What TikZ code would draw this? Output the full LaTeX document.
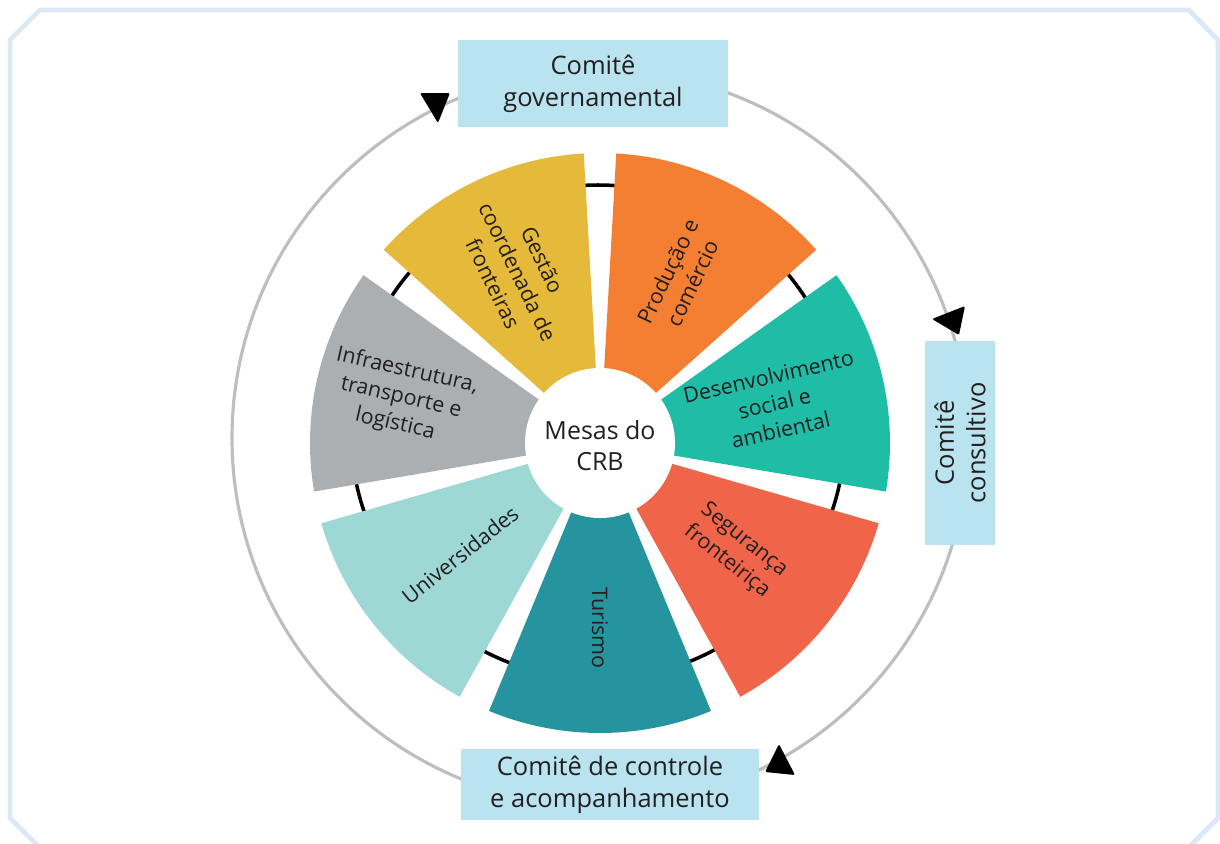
\documentclass[tikz,border=0pt]{standalone}
\usepackage{fontspec}
\setmainfont{Open Sans}
\usepackage{tikz}
\definecolor{frameblue}{RGB}{220,232,245}
\definecolor{boxblue}{RGB}{185,227,238}
\definecolor{ringgray}{RGB}{188,190,194}
\definecolor{inkgray}{RGB}{35,31,32}
\definecolor{cgest}{RGB}{229,185,58}
\definecolor{cprod}{RGB}{244,127,50}
\definecolor{cdes}{RGB}{32,189,166}
\definecolor{cseg}{RGB}{240,100,73}
\definecolor{ctur}{RGB}{37,148,158}
\definecolor{cuniv}{RGB}{158,216,213}
\definecolor{cinfra}{RGB}{172,175,177}

\tikzset{
  comite/.style={fill=boxblue, inner sep=0pt, align=center, text=inkgray,
    font=\fontsize{14.5}{18}\selectfont},
  mesa/.style={align=center, text=inkgray, inner sep=0pt,
    font=\fontsize{12.2}{15.6}\selectfont},
}

\begin{document}
\begin{tikzpicture}[x=0.02cm, y=0.02cm]
    \useasboundingbox (-600,-400) rectangle (620,443);
    \clip (-600,-400) rectangle (620,443);
    % moldura
    \draw[frameblue, line width=2.8pt] (-560,433) -- (589,433) -- (618,403) -- (618,-375)
        -- (588,-405) -- (-560,-405) -- (-590,-375) -- (-590,403) -- cycle;
    % ciclo dos comites
    \draw[ringgray, line width=1.8pt] (0,5) circle[radius=368];
    \node[comite, minimum width=5.4cm, minimum height=1.74cm] (gov) at (-7,359.5) {Comitê\\governamental};
    \node[comite, rotate=90, minimum width=4.08cm, minimum height=1.4cm] (cons) at (360,0) {Comitê\\consultivo};
    \node[comite, minimum width=5.96cm, minimum height=1.42cm] (ctrl) at (10,-341.5) {Comitê de controle\\e acompanhamento};
    \fill[black, rounded corners=0.8pt] (-180,350) -- (-150,350) -- (-162,320) -- cycle;
    \fill[black, rounded corners=0.8pt] (332,124) -- (365,137) -- (359,108) -- cycle;
    \fill[black, rounded corners=0.8pt] (179,-301) -- (165,-329) -- (195,-332) -- cycle;
    % mesas
    \draw[black, line width=2pt] (-2,11) circle[radius=247];
    \foreach \ang/\col/\rot/\rad/\txt/\nm in {
        270/ctur/-90/185/{Turismo}/tur,
        321.43/cseg/-38.57/173/{Segurança\\fronteiriça}/seg,
        12.86/cdes/12.86/179/{Desenvolvimento\\social e\\ambiental}/des,
        64.29/cprod/64.29/184/{Produção e\\comércio}/prod,
        115.71/cgest/-64.29/190/{Gestão\\coordenada de\\fronteiras}/gest,
        167.14/cinfra/-12.86/204/{Infraestrutura,\\transporte e\\logística}/infra,
        218.57/cuniv/38.57/179/{Universidades}/univ}
    {
        \fill[\col] (0,0) -- ({\ang-22.5}:290) arc[start angle=\ang-22.5, end angle=\ang+22.5, radius=290] -- cycle;
        \node[mesa, rotate=\rot] (\nm) at (\ang:\rad) {\txt};
    }
    \fill[white] (0,0) circle[radius=75];
    \node[align=center, text=inkgray, font=\fontsize{14.2}{17.5}\selectfont] (crb) at (0,-3) {Mesas do\\CRB};
\end{tikzpicture}
\end{document}
